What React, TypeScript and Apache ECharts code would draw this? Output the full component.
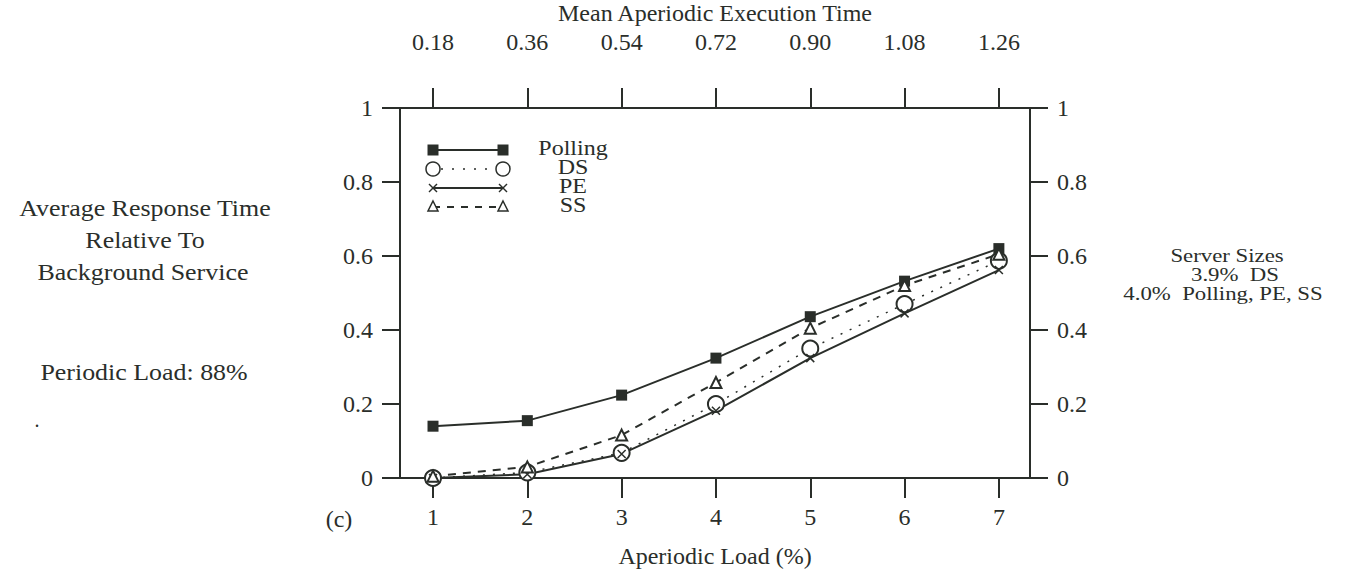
import React, { useEffect, useRef } from 'react';
import * as echarts from 'echarts';

const aperiodicLoad = [1, 2, 3, 4, 5, 6, 7];
const execTimeLabels = ['0.18', '0.36', '0.54', '0.72', '0.90', '1.08', '1.26'];
const pollingValues = [0.14, 0.155, 0.224, 0.324, 0.436, 0.532, 0.62];
const dsValues = [0.0, 0.015, 0.068, 0.2, 0.35, 0.47, 0.587];
const peValues = [0.0, 0.01, 0.065, 0.182, 0.324, 0.445, 0.562];
const ssValues = [0.005, 0.03, 0.116, 0.258, 0.405, 0.52, 0.605];
const seriesNames = ['Polling', 'DS', 'PE', 'SS'];
const leftNotes = ['Average Response Time', 'Relative To', 'Background Service', 'Periodic Load: 88%'];
const rightNotes = ['Server Sizes', '3.9%  DS', '4.0%  Polling, PE, SS'];

const INK = '#2a2e2a';
const FONT = '"Liberation Serif", "Times New Roman", serif';
const CROSS = 'path://M0,0L10,10M10,0L0,10';

export default function App() {
  const ref = useRef<HTMLDivElement>(null);
  useEffect(() => {
    if (!ref.current) return;
    const chart = echarts.init(ref.current, null, { renderer: 'svg' });
    const pts = (vals: number[]) => aperiodicLoad.map((x, i) => [x, vals[i]]);
    const axisCommon = {
      type: 'value' as const,
      min: 0.65,
      max: 7.33,
      splitLine: { show: false },
      axisLine: { show: true, onZero: false, lineStyle: { color: INK, width: 2 } },
      axisTick: { show: true, customValues: aperiodicLoad, length: 20, lineStyle: { color: INK, width: 2 } },
      nameLocation: 'middle' as const,
      nameTextStyle: { fontFamily: FONT, fontSize: 24, color: INK },
    };
    const yCommon = {
      type: 'value' as const,
      min: 0,
      max: 1,
      interval: 0.2,
      splitLine: { show: false },
      axisLine: { show: true, onZero: false, lineStyle: { color: INK, width: 2 } },
      axisTick: { show: true, length: 18, lineStyle: { color: INK, width: 2 } },
      axisLabel: { fontFamily: FONT, fontSize: 24, color: INK, margin: 27 },
    };
    const txt = (text: string, x: number, y: number, size: number, scaleX = 1) => ({
      type: 'text',
      x,
      y,
      scaleX,
      silent: true,
      style: {
        text,
        x: 0,
        y: 0,
        fontFamily: FONT,
        fontSize: size,
        fill: INK,
        align: 'center',
        verticalAlign: 'middle',
        textAlign: 'center',
        textVerticalAlign: 'middle',
      },
    });
    const lx0 = 433, lx1 = 503;
    const legendY = [150, 169, 188, 207];
    const textY = [148, 167, 186, 205];
    const graphics: any[] = [];
    // Polling
    graphics.push({ type: 'line', shape: { x1: lx0, y1: legendY[0], x2: lx1, y2: legendY[0] }, style: { stroke: INK, lineWidth: 2 } });
    [lx0, lx1].forEach((x) => graphics.push({ type: 'rect', shape: { x: x - 5.5, y: legendY[0] - 5.5, width: 11, height: 11 }, style: { fill: INK } }));
    // DS
    graphics.push({ type: 'line', shape: { x1: lx0 + 8, y1: legendY[1], x2: lx1 - 8, y2: legendY[1] }, style: { stroke: INK, lineWidth: 1.5, lineDash: [2, 9] } });
    [lx0, lx1].forEach((x) => graphics.push({ type: 'circle', shape: { cx: x, cy: legendY[1], r: 7 }, style: { fill: '#fff', stroke: INK, lineWidth: 1.5 } }));
    // PE
    graphics.push({ type: 'line', shape: { x1: lx0, y1: legendY[2], x2: lx1, y2: legendY[2] }, style: { stroke: INK, lineWidth: 2 } });
    [lx0, lx1].forEach((x) => {
      graphics.push({ type: 'line', shape: { x1: x - 4, y1: legendY[2] - 4, x2: x + 4, y2: legendY[2] + 4 }, style: { stroke: INK, lineWidth: 1.5 } });
      graphics.push({ type: 'line', shape: { x1: x + 4, y1: legendY[2] - 4, x2: x - 4, y2: legendY[2] + 4 }, style: { stroke: INK, lineWidth: 1.5 } });
    });
    // SS
    graphics.push({ type: 'line', shape: { x1: lx0, y1: legendY[3], x2: lx1, y2: legendY[3] }, style: { stroke: INK, lineWidth: 2, lineDash: [7, 7] } });
    [lx0, lx1].forEach((x) => graphics.push({ type: 'polygon', shape: { points: [[x, legendY[3] - 6], [x + 5, legendY[3] + 4], [x - 5, legendY[3] + 4]] }, style: { fill: '#fff', stroke: INK, lineWidth: 1.5 } }));
    seriesNames.forEach((n, i) => graphics.push(txt(n, 573, textY[i], 20, 1.2)));
    // left notes
    graphics.push(txt(leftNotes[0], 145, 208, 24, 1.08));
    graphics.push(txt(leftNotes[1], 145, 240, 24, 1.08));
    graphics.push(txt(leftNotes[2], 143, 272, 24, 1.08));
    graphics.push(txt(leftNotes[3], 144, 372, 24, 1.08));
    graphics.push(txt('.', 37, 420, 20));
    graphics.push(txt('(c)', 339, 519, 24));
    // right notes
    graphics.push(txt(rightNotes[0], 1227, 256, 19, 1.2));
    graphics.push(txt(rightNotes[1], 1235, 275, 19, 1.2));
    graphics.push(txt(rightNotes[2], 1223, 294, 19, 1.2));

    const option: any = {
      animation: false,
      backgroundColor: '#fff',
      grid: { left: 400, right: 324, top: 108, bottom: 95, containLabel: false, outerBoundsMode: 'none' },
      xAxis: [
        {
          ...axisCommon,
          position: 'bottom',
          name: 'Aperiodic Load (%)',
          nameGap: 66,
          axisLabel: { customValues: aperiodicLoad, fontFamily: FONT, fontSize: 24, color: INK, margin: 27 },
        },
        {
          ...axisCommon,
          position: 'top',
          name: 'Mean Aperiodic Execution Time',
          nameGap: 82,
          axisLabel: {
            customValues: aperiodicLoad,
            fontFamily: FONT,
            fontSize: 24,
            color: INK,
            margin: 54,
            formatter: (v: number) => execTimeLabels[aperiodicLoad.indexOf(Math.round(v))] ?? '',
          },
        },
      ],
      yAxis: [
        { ...yCommon, position: 'left' },
        { ...yCommon, position: 'right' },
      ],
      series: [
        {
          name: seriesNames[0], type: 'line', data: pts(pollingValues), symbol: 'rect', symbolSize: 11,
          lineStyle: { color: INK, width: 2 }, itemStyle: { color: INK }, clip: false,
        },
        {
          name: seriesNames[1], type: 'line', data: pts(dsValues), symbol: 'emptyCircle', symbolSize: 16,
          lineStyle: { color: INK, width: 1.5, type: [2, 8] }, itemStyle: { color: INK, borderWidth: 1.5 }, clip: false,
        },
        {
          name: seriesNames[2], type: 'line', data: pts(peValues), symbol: CROSS, symbolSize: 8,
          lineStyle: { color: INK, width: 2 }, itemStyle: { color: 'transparent', borderColor: INK, borderWidth: 1.5 }, clip: false,
        },
        {
          name: seriesNames[3], type: 'line', data: pts(ssValues), symbol: 'emptyTriangle', symbolSize: 11,
          lineStyle: { color: INK, width: 2, type: [8, 7] }, itemStyle: { color: INK, borderWidth: 1.5 }, clip: false,
        },
      ],
      graphic: graphics,
    };
    chart.setOption(option);
    return () => chart.dispose();
  }, []);
  return <div ref={ref} style={{ position: 'fixed', left: 0, top: 0, width: 1354, height: 573, background: '#fff' }} />;
}
